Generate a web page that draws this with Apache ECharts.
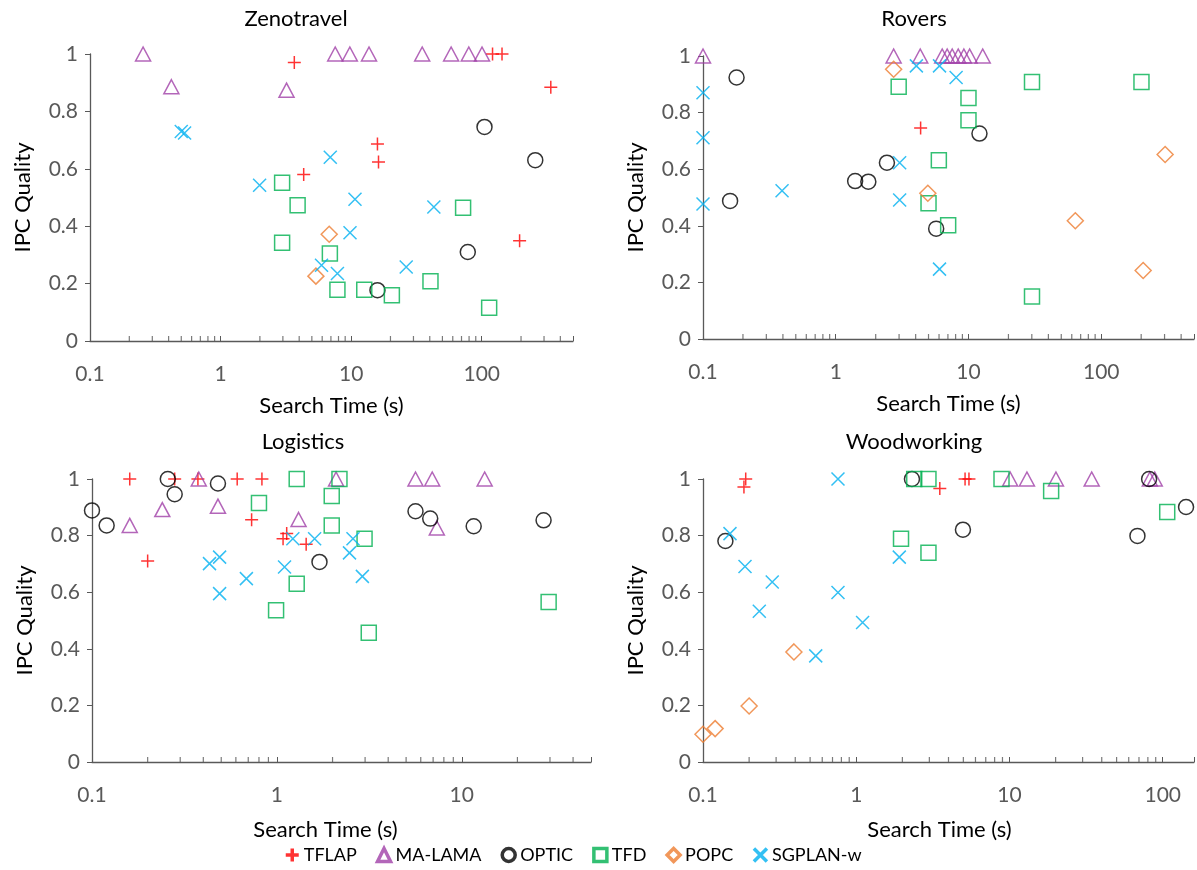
<!DOCTYPE html>
<html>
<head>
<meta charset="utf-8">
<title>IPC Quality vs Search Time</title>
<script src="https://cdn.jsdelivr.net/npm/echarts@6/dist/echarts.min.js"></script>
<style>
  html, body { margin: 0; padding: 0; background: #fff; }
  #chart { width: 1197px; height: 870px; }
</style>
</head>
<body>
<div id="chart"></div>
<script>
const planners = ["TFLAP", "MA-LAMA", "OPTIC", "TFD", "POPC", "SGPLAN-w"];
const domains = ["Zenotravel", "Rovers", "Logistics", "Woodworking"];
const timeMax = [500, 500, 50, 160];
const xTickLabels = ["0.1", "1", "10", "100"];

// [search time (s), IPC quality]
const zenoTflap = [[3.67, 0.97], [4.33, 0.58], [15.9, 0.686], [16.2, 0.624], [121, 1], [143, 1], [338, 0.884], [195, 0.349]];
const zenoLama = [[0.255, 1], [0.42, 0.886], [3.2, 0.874], [7.55, 1], [9.77, 1], [13.7, 1], [35, 1], [58.3, 1], [79.6, 1], [100.5, 1]];
const zenoOptic = [[15.9, 0.177], [78.2, 0.31], [105, 0.746], [257, 0.63]];
const zenoTfd = [[2.96, 0.551], [2.96, 0.342], [3.89, 0.473], [6.87, 0.305], [7.85, 0.179], [12.6, 0.179], [20.5, 0.159], [40.5, 0.208], [72, 0.464], [114, 0.116]];
const zenoPopc = [[6.79, 0.372], [5.37, 0.226]];
const zenoSgplan = [[0.5, 0.73], [0.53, 0.725], [1.99, 0.543], [6.92, 0.64], [10.7, 0.494], [9.8, 0.377], [5.93, 0.264], [7.85, 0.235], [26.4, 0.258], [43, 0.467]];

const roversTflap = [[4.36, 0.746]];
const roversLama = [[0.1, 1], [2.73, 1], [4.33, 1], [6.34, 1], [6.91, 1], [7.54, 1], [8.37, 1], [9.23, 1], [10.2, 1], [12.8, 1]];
const roversOptic = [[0.179, 0.924], [0.16, 0.488], [1.4, 0.558], [1.76, 0.556], [2.43, 0.623], [12.1, 0.726], [5.71, 0.39]];
const roversTfd = [[2.98, 0.891], [10, 0.852], [10, 0.773], [5.98, 0.632], [5.0, 0.48], [7.03, 0.402], [30.1, 0.908], [30.1, 0.15], [201, 0.908]];
const roversPopc = [[2.73, 0.953], [4.94, 0.515], [63.8, 0.418], [207, 0.242], [303, 0.652]];
const roversSgplan = [[0.1, 0.87], [0.1, 0.711], [0.1, 0.477], [0.394, 0.524], [3.03, 0.623], [3.03, 0.491], [4.05, 0.965], [6.05, 0.965], [8.07, 0.924], [6.05, 0.247]];

const logiTflap = [[0.16, 1], [0.2, 0.71], [0.28, 1], [0.374, 1], [0.61, 1], [0.83, 1], [0.73, 0.856], [1.08, 0.789], [1.13, 0.807], [1.44, 0.769]];
const logiLama = [[0.16, 0.836], [0.24, 0.892], [0.378, 1], [0.48, 0.904], [1.31, 0.857], [2.09, 1], [5.62, 1], [6.92, 1], [13.3, 1], [7.33, 0.827]];
const logiOptic = [[0.1, 0.889], [0.12, 0.836], [0.257, 1], [0.28, 0.946], [0.48, 0.984], [1.7, 0.707], [5.62, 0.886], [6.75, 0.86], [11.6, 0.833], [27.7, 0.854]];
const logiTfd = [[0.8, 0.915], [0.99, 0.536], [1.28, 1], [1.28, 0.63], [2.18, 1], [1.98, 0.94], [1.98, 0.836], [2.98, 0.789], [3.14, 0.457], [29.5, 0.565]];
const logiPopc = [];
const logiSgplan = [[0.432, 0.701], [0.49, 0.724], [0.49, 0.595], [0.684, 0.648], [1.1, 0.689], [1.22, 0.789], [1.6, 0.789], [2.58, 0.789], [2.47, 0.739], [2.9, 0.656]];

const woodTflap = [[0.19, 1], [0.185, 0.972], [3.51, 0.966], [5.13, 1], [5.44, 1]];
const woodLama = [[10.1, 1], [13.0, 1], [20.1, 1], [34.4, 1], [82.4, 1], [88.7, 1]];
const woodOptic = [[0.14, 0.781], [2.31, 1], [4.97, 0.821], [81.5, 1], [68.4, 0.799], [142, 0.901]];
const woodTfd = [[1.96, 0.789], [2.39, 1], [2.96, 1], [2.96, 0.739], [8.87, 1], [18.7, 0.958], [107, 0.883]];
const woodPopc = [[0.1, 0.098], [0.12, 0.118], [0.2, 0.198], [0.392, 0.389]];
const woodSgplan = [[0.15, 0.807], [0.188, 0.691], [0.233, 0.533], [0.283, 0.636], [0.544, 0.375], [0.76, 1], [0.76, 0.599], [1.1, 0.493], [1.91, 0.724]];

const panelData = [
  [zenoTflap, zenoLama, zenoOptic, zenoTfd, zenoPopc, zenoSgplan],
  [roversTflap, roversLama, roversOptic, roversTfd, roversPopc, roversSgplan],
  [logiTflap, logiLama, logiOptic, logiTfd, logiPopc, logiSgplan],
  [woodTflap, woodLama, woodOptic, woodTfd, woodPopc, woodSgplan]
];

// layout
const grids = [
  { left: 90, top: 54, width: 483, height: 287 },
  { left: 703, top: 56, width: 493, height: 283 },
  { left: 92, top: 479, width: 499, height: 283 },
  { left: 703, top: 479, width: 492, height: 283 }
];
const titlePos = [[296, 8], [914, 8], [303, 431], [914, 431]];

const FONT = "Lato";
const AXIS = "#595959";
const plusPath = "path://M5,0 L5,10 M0,5 L10,5";
const crossPath = "path://M0,0 L10,10 M10,0 L0,10";
const styles = [
  { symbol: plusPath, size: 13, color: "#FF0000" },
  { symbol: "triangle", size: [15, 14], color: "#A040A8" },
  { symbol: "circle", size: 15, color: "#000000" },
  { symbol: "rect", size: 15, color: "#00B050" },
  { symbol: "diamond", size: 16, color: "#ED7D31" },
  { symbol: crossPath, size: 13, color: "#00B0F0" }
];

function timeLabel(v) {
  const l = Math.log10(v);
  if (Math.abs(l - Math.round(l)) > 1e-6) return "";
  return xTickLabels[Math.round(l) + 1] || "";
}

const xAxis = [], yAxis = [], series = [];
grids.forEach((g, i) => {
  xAxis.push({
    type: "log", gridIndex: i, logBase: 10, min: 0.1, max: timeMax[i],
    axisLine: { show: true, onZero: false, lineStyle: { color: AXIS, width: 1.3 } },
    axisTick: { show: true, inside: true, length: 5, lineStyle: { color: AXIS } },
    axisLabel: { margin: 23, fontSize: 21, color: AXIS, fontFamily: FONT, formatter: timeLabel },
    splitLine: { show: false },
    name: "Search Time (s)", nameLocation: "middle", nameGap: i >= 2 ? 57 : 54,
    nameTextStyle: { fontSize: 22, color: "#000", fontFamily: FONT,
      padding: i >= 2 ? [0, [32, 18][i - 2], 0, 0] : 0 }
  });
  yAxis.push({
    type: "value", gridIndex: i, min: 0, max: 1, interval: 0.2,
    axisLine: { show: true, onZero: false, lineStyle: { color: AXIS, width: 1.3 } },
    axisTick: { show: true, inside: false, length: 5, lineStyle: { color: AXIS } },
    axisLabel: { margin: 12, fontSize: 21, color: AXIS, fontFamily: FONT },
    splitLine: { show: false },
    name: "IPC Quality", nameLocation: "middle", nameGap: 56,
    nameTextStyle: { fontSize: 22, color: "#000", fontFamily: FONT }
  });

  // Excel-style minor ticks at 2..9 of each decade
  const minor = [];
  for (let d = 0.1; d < timeMax[i]; d *= 10) {
    for (let k = 2; k <= 9; k++) {
      const v = +(k * d).toPrecision(3);
      if (v < timeMax[i]) minor.push([v, 0]);
    }
  }
  series.push({
    type: "scatter", name: "minor" + i, xAxisIndex: i, yAxisIndex: i, data: minor,
    symbol: "rect", symbolSize: [1.2, 5], symbolOffset: [0, -2.5],
    itemStyle: { color: AXIS }, silent: true, z: 1, clip: false
  });

  panelData[i].forEach((pts, p) => {
    const st = styles[p];
    series.push({
      type: "scatter", name: planners[p], xAxisIndex: i, yAxisIndex: i, data: pts,
      symbol: st.symbol, symbolSize: st.size,
      itemStyle: { color: "transparent", borderColor: st.color, borderWidth: 1.5 },
      emphasis: { disabled: true }, clip: false, z: 2
    });
  });
});

const chart = echarts.init(document.getElementById("chart"));
chart.setOption({
  animation: false,
  backgroundColor: "#fff",
  title: domains.map((d, i) => ({
    text: d, left: titlePos[i][0], top: titlePos[i][1], textAlign: "center", padding: 0,
    textStyle: { fontSize: 22, fontWeight: "normal", color: "#000", fontFamily: FONT }
  })),
  grid: grids,
  xAxis: xAxis,
  yAxis: yAxis,
  legend: {
    data: planners, left: 284, top: 846, itemGap: 19, itemWidth: 13, itemHeight: 13,
    selectedMode: false, padding: 0,
    itemStyle: { borderWidth: 3.5 },
    textStyle: { fontSize: 18, color: "#000", fontFamily: FONT }
  },
  series: series
});
</script>
</body>
</html>
